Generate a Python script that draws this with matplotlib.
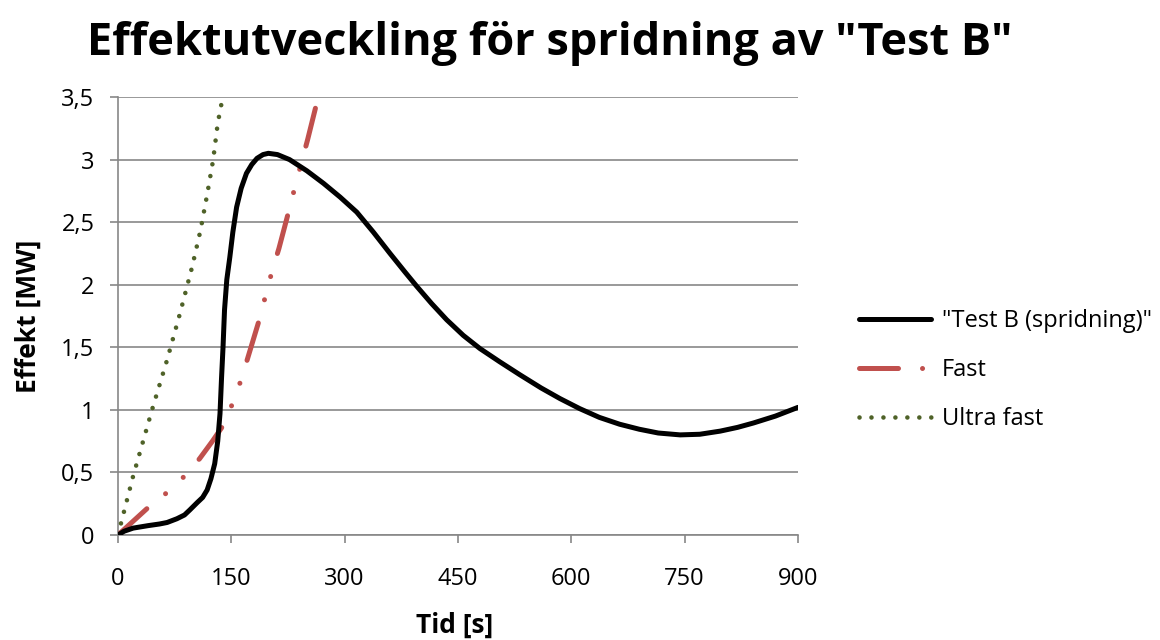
import numpy as np
import matplotlib.pyplot as plt
from matplotlib.ticker import FuncFormatter, MultipleLocator

plt.rcParams['font.family'] = ['Open Sans', 'DejaVu Sans']

# Uppmätt effekt för "Test B (spridning)"
test_t = [0, 8, 20, 40, 55, 65, 78, 88, 95, 105, 112, 118, 123, 128, 132, 135, 137, 139,
          141, 144, 148, 152, 157, 163, 170, 177, 184, 192, 199, 211, 227, 250, 272, 294,
          316, 338, 360, 380, 395, 415, 435, 457, 479, 505, 532, 560, 585, 611, 637, 664,
          690, 715, 744, 770, 797, 820, 841, 870, 900]
test_q = [0, 0.03, 0.055, 0.075, 0.088, 0.10, 0.13, 0.16, 0.20, 0.26, 0.30, 0.36, 0.45,
          0.57, 0.75, 0.97, 1.25, 1.50, 1.80, 2.04, 2.22, 2.42, 2.62, 2.77, 2.89, 2.96,
          3.01, 3.04, 3.05, 3.04, 3.00, 2.91, 2.81, 2.70, 2.58, 2.42, 2.25, 2.10, 1.99,
          1.85, 1.72, 1.595, 1.49, 1.385, 1.28, 1.175, 1.09, 1.01, 0.94, 0.885, 0.845,
          0.815, 0.80, 0.805, 0.83, 0.86, 0.895, 0.95, 1.02]

# Dimensionerande brandkurvor
fast_t = [0, 40, 65, 88, 108, 125, 142, 152, 163, 172, 188, 196, 204, 213, 227, 235, 243, 251, 265, 275]
fast_q = [0, 0.22, 0.34, 0.47, 0.61, 0.75, 0.90, 1.06, 1.24, 1.42, 1.74, 1.93, 2.11, 2.29, 2.61, 2.80, 2.98, 3.16, 3.50, 3.72]

ultra_t = [0, 20, 46, 65, 82, 98, 109, 118, 126, 132, 138, 145]
ultra_q = [0, 0.47, 1.02, 1.40, 1.77, 2.14, 2.43, 2.72, 3.00, 3.29, 3.48, 3.80]

x_ticks = [0, 150, 300, 450, 600, 750, 900]

grey = '#878787'

fig = plt.figure(figsize=(11.6, 6.4), dpi=100)
ax = fig.add_axes([118 / 1160, 105 / 640, 680 / 1160, 438 / 640])

ax.plot(test_t, test_q, color='black', lw=3.6, solid_capstyle='round', solid_joinstyle='round',
        label='"Test B (spridning)"', zorder=4)
ax.plot(fast_t, fast_q, color='#C0504D', lw=3.6, dashes=(7.8, 4.8, 0.01, 4.8, 0.01, 4.8),
        dash_capstyle='round', label='Fast', zorder=3)
ax.plot(ultra_t, ultra_q, color='#4F6228', lw=3.3, dashes=(0.01, 2.6),
        dash_capstyle='round', label='Ultra fast', zorder=3)

ax.set_xlim(0, 900)
ax.set_ylim(0, 3.5)
ax.set_xticks(x_ticks)
ax.yaxis.set_major_locator(MultipleLocator(0.5))
ax.yaxis.set_major_formatter(FuncFormatter(lambda v, p: f'{v:g}'.replace('.', ',')))

ax.grid(axis='y', color=grey, lw=1.2)
ax.set_axisbelow(True)
for s in ['top', 'right']:
    ax.spines[s].set_visible(False)
for s in ['left', 'bottom']:
    ax.spines[s].set_color(grey)
    ax.spines[s].set_linewidth(1.2)
ax.tick_params(axis='both', colors=grey, labelcolor='black', labelsize=17,
               length=6, width=1.2, direction='out')
ax.tick_params(axis='y', pad=11)
ax.tick_params(axis='x', pad=17)

ax.set_xlabel('Tid [s]', fontsize=19, fontweight='bold')
ax.set_ylabel('Effekt [MW]', fontsize=19, fontweight='bold')
ax.xaxis.set_label_coords(0.495, -0.205)
ax.yaxis.set_label_coords(-0.132, 0.5)
ax.xaxis.label.set_va('center')
ax.yaxis.label.set_va('center')

fig.text(0.474, 0.914, 'Effektutveckling för spridning av "Test B"', fontsize=32.5,
         fontweight='bold', ha='center', va='baseline')

ax.legend(loc='center left', bbox_to_anchor=(850 / 1160, 270 / 640), bbox_transform=fig.transFigure,
          frameon=False, fontsize=17, handlelength=3.05, handletextpad=0.45, labelspacing=1.05,
          borderaxespad=0)

fig.savefig('out.png', dpi=100)
